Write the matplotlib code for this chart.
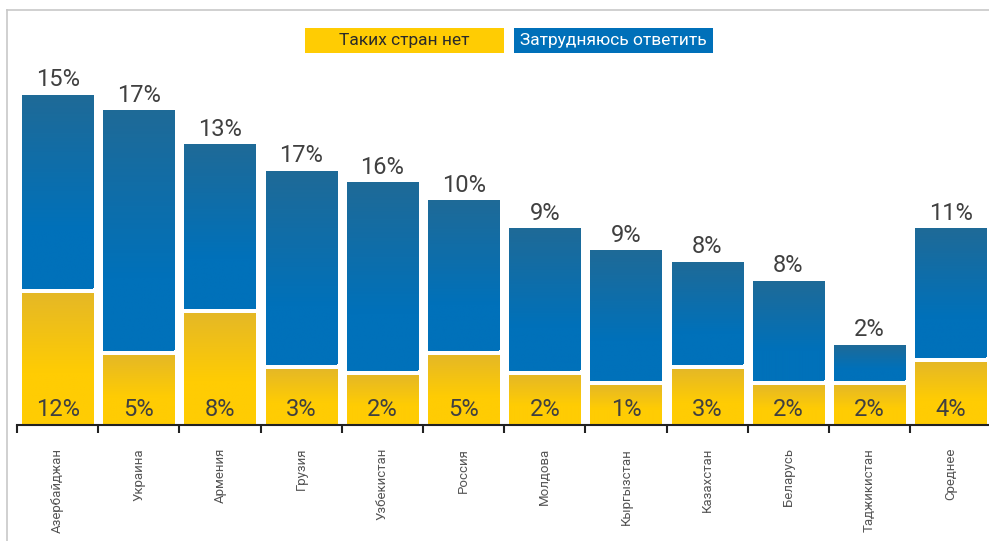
import numpy as np
import matplotlib
matplotlib.use("Agg")
import matplotlib.pyplot as plt
from matplotlib.patches import Rectangle
from matplotlib.lines import Line2D
from matplotlib.colors import to_rgb

# ---------------- data ----------------
countries = ['Азербайджан', 'Украина', 'Армения', 'Грузия', 'Узбекистан', 'Россия',
             'Молдова', 'Кыргызстан', 'Казахстан', 'Беларусь', 'Таджикистан', 'Среднее']
# labels printed on the chart
no_countries_labels = [12, 5, 8, 3, 2, 5, 2, 1, 3, 2, 2, 4]          # "Таких стран нет"
hard_to_say_labels = [15, 17, 13, 17, 16, 10, 9, 9, 8, 8, 2, 11]      # "Затрудняюсь ответить"
# drawn segment heights
yellow_heights = [13.2, 7.0, 11.2, 5.6, 5.0, 7.0, 5.0, 4.0, 5.6, 4.0, 4.0, 6.3]
blue_heights = [19.4, 24.1, 16.5, 19.4, 18.9, 15.1, 14.3, 13.1, 10.3, 10.0, 3.6, 13.0]
legend_labels = ['Таких стран нет', 'Затрудняюсь ответить']

GAP = 0.45
W_PX, H_PX = 989, 541

plt.rcParams['font.family'] = ['Roboto', 'DejaVu Sans']

fig = plt.figure(figsize=(W_PX / 100, H_PX / 100), dpi=100)
fig.patch.set_facecolor('white')

def fx(px):
    return px / W_PX

def fy(py):
    return 1 - py / H_PX

ax = fig.add_axes([fx(17), fy(425), fx(989) - fx(17), fy(10) - fy(425)])
ax.patch.set_alpha(0)

x = np.arange(len(countries))
width = 0.875
STEP = 81.2

yellow_c_top, yellow_c_bot = '#E5B826', '#FFCC03'
blue_c_top, blue_c_bot = '#1F6A97', '#0071BA'

def gradient_fill(patch, c_top, c_bot, frac):
    x0, y0 = patch.get_x(), patch.get_y()
    w, h = patch.get_width(), patch.get_height()
    n = 200
    t = np.linspace(0, 1, n)[:, None]
    mix = np.clip(t / frac, 0, 1)
    ct, cb = np.array(to_rgb(c_top)), np.array(to_rgb(c_bot))
    img = (ct * (1 - mix) + cb * mix).reshape(n, 1, 3)
    im = ax.imshow(img, extent=(x0, x0 + w, y0, y0 + h), aspect='auto',
                   origin='upper', interpolation='bilinear', zorder=3)
    im.set_clip_path(patch)

ybars = ax.bar(x, yellow_heights, width=width, color=yellow_c_bot, zorder=2)
blue_bottom = [v + GAP for v in yellow_heights]
bbars = ax.bar(x, blue_heights, width=width, bottom=blue_bottom, color=blue_c_bot, zorder=2)

for p in ybars:
    gradient_fill(p, yellow_c_top, yellow_c_bot, 0.6)
for p in bbars:
    gradient_fill(p, blue_c_top, blue_c_bot, 0.7)

label_color = '#404040'
for i in range(len(countries)):
    top = blue_bottom[i] + blue_heights[i]
    ax.text(x[i], top + 0.8, f'{hard_to_say_labels[i]}%', ha='center', va='baseline',
            fontsize=17, color=label_color, zorder=5)
    ax.text(x[i], 0.9, f'{no_countries_labels[i]}%', ha='center', va='baseline',
            fontsize=17, color=label_color, zorder=5)

ax.set_xlim(-0.5, -0.5 + (989 - 17) / STEP)
ax.set_ylim(0, 41.5)

for s in ['top', 'right', 'left']:
    ax.spines[s].set_visible(False)
ax.spines['bottom'].set_color('#222222')
ax.spines['bottom'].set_linewidth(1.5)
ax.spines['bottom'].set_zorder(6)

ax.set_yticks([])
ax.set_xticks(np.arange(len(countries)) - 0.5)
ax.set_xticklabels([])
ax.tick_params(axis='x', which='major', direction='out', length=5.8, width=1.5,
               color='#222222')
ax.set_xticks(x, minor=True)
ax.set_xticklabels(countries, minor=True, rotation=90, fontsize=9.5, color='#555555')
ax.tick_params(axis='x', which='minor', length=0, pad=16.5)

# legend boxes
fig.patches.append(Rectangle((fx(305), fy(53)), fx(504) - fx(305), fy(28) - fy(53),
                             transform=fig.transFigure, facecolor='#FFCC03',
                             edgecolor='none', zorder=3))
fig.patches.append(Rectangle((fx(514), fy(53)), fx(713) - fx(514), fy(28) - fy(53),
                             transform=fig.transFigure, facecolor='#0070B9',
                             edgecolor='none', zorder=3))
fig.text(fx(404.5), fy(41), legend_labels[0], ha='center', va='center',
         fontsize=12.5, color='#2a2a2a', zorder=4)
fig.text(fx(613.5), fy(41), legend_labels[1], ha='center', va='center',
         fontsize=12.5, color='white', zorder=4)

# outer frame (left and top)
fig.add_artist(Line2D([fx(6.5), fx(6.5)], [fy(10), 0], transform=fig.transFigure,
                      color='#C8C8C8', linewidth=1.2))
fig.add_artist(Line2D([fx(6.5), 1], [fy(10), fy(10)], transform=fig.transFigure,
                      color='#C8C8C8', linewidth=1.2))

fig.savefig('out.png', dpi=100)
